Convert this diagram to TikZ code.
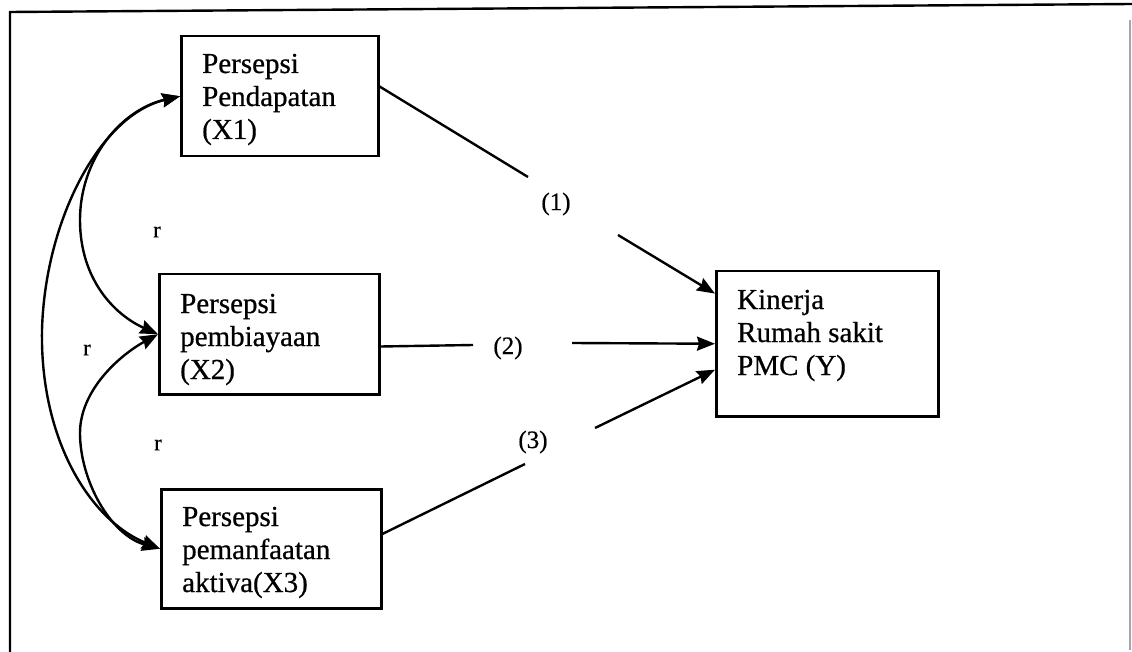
\documentclass[tikz,border=0pt]{standalone}
\usepackage{fontspec}
\setmainfont{Liberation Serif}[FakeBold=0.6]
\usetikzlibrary{arrows.meta,calc}
\begin{document}
\begin{tikzpicture}[x=1pt,y=-1pt,
  box/.style={draw,line width=2.5pt,inner sep=0pt,anchor=north west},
  boxtext/.style={anchor=base west,align=left,inner sep=0pt,font=\fontsize{29}{33}\selectfont},
  lbl/.style={font=\fontsize{25}{28}\selectfont,inner sep=0pt},
  rlbl/.style={font=\fontsize{23}{25}\selectfont,inner sep=0pt},
  conn/.style={line width=2.4pt},
  tip/.style={line width=2.4pt,-{Stealth[length=18pt,width=14pt,inset=2pt]}},
  corr/.style={line width=2.4pt,{Stealth[length=18pt,width=14pt,inset=2pt]}-{Stealth[length=18pt,width=14pt,inset=2pt]}}
]
\useasboundingbox (0,0) rectangle (1132,652);

% frame
\coordinate (ftl) at (10,12);
\coordinate (ftr) at (1132,4);
\coordinate (fbl) at (10,652);
\coordinate (frt) at (1130,20);
\coordinate (frb) at (1130,650);
\draw[line width=2.4pt] (fbl) -- (ftl) -- (ftr);
\draw[line width=1.2pt,black!35] (frt) -- (frb);

% boxes
\node[box,minimum width=197pt,minimum height=120pt] (X1) at (180,35) {};
\node[box,minimum width=220pt,minimum height=120pt] (X2) at (158,273) {};
\node[box,minimum width=220pt,minimum height=119pt] (X3) at (160,488) {};
\node[box,minimum width=222pt,minimum height=145pt] (Y) at (715,270) {};

% text (anchor base = baseline of the last line)
\node[boxtext] (X1t) at ($(X1.north west)+(22,104)$) {Persepsi\\Pendapatan\\(X1)};
\node[boxtext] (X2t) at ($(X2.north west)+(22,106)$) {Persepsi\\pembiayaan\\(X2)};
\node[boxtext] (X3t) at ($(X3.north west)+(22,104)$) {Persepsi\\pemanfaatan\\aktiva(X3)};
\node[boxtext] (Yt) at ($(Y.north west)+(22,105)$) {Kinerja\\Rumah sakit\\PMC (Y)};

% path labels
\node[lbl] (L1) at (556,204) {(1)};
\node[lbl] (L2) at (508,348) {(2)};
\node[lbl] (L3) at (533,442) {(3)};

% broken straight connectors
\coordinate (c1a) at (528,177);
\coordinate (c1b) at (618,235);
\coordinate (c2a) at (473,345);
\coordinate (c2b) at (572,343);
\coordinate (c3a) at (525,464);
\coordinate (c3b) at (595,428);
\draw[conn] ($(X1.north east)!0.42!(X1.south east)$) -- (c1a);
\draw[tip] (c1b) -- ($(Y.north west)!0.16!(Y.south west)$);
\draw[conn] ($(X2.north east)!0.6!(X2.south east)$) -- (c2a);
\draw[tip] (c2b) -- (Y.west);
\draw[conn] ($(X3.north east)!0.378!(X3.south east)$) -- (c3a);
\draw[tip] (c3b) -- ($(Y.north west)!0.676!(Y.south west)$);

% correlation curves
\draw[corr] (X1.west) .. controls (100,115) and (45,220) .. (42,330)
  .. controls (40,440) and (90,520) .. (X3.west);
\draw[corr] (X1.west) .. controls (120,110) and (80,160) .. (80,220)
  .. controls (80,280) and (115,315) .. (X2.west);
\draw[corr] (X2.west) .. controls (120,355) and (80,390) .. (80,433)
  .. controls (80,480) and (110,535) .. (X3.west);

\node[rlbl] (r1) at (157,232) {r};
\node[rlbl] (r2) at (87,350) {r};
\node[rlbl] (r3) at (158,445) {r};
\end{tikzpicture}
\end{document}
